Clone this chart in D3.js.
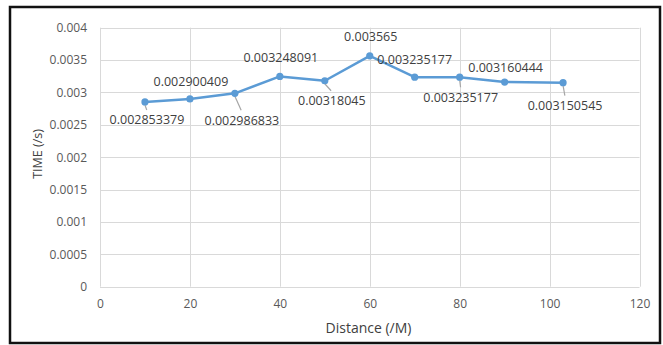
<!DOCTYPE html>
<html><head><meta charset="utf-8">
<script src="https://cdn.jsdelivr.net/npm/d3@7"></script>
<style>body{margin:0;background:#fff}svg{display:block}</style>
</head><body>
<svg id="c" width="663" height="345"></svg>
<script>
const distance = [10, 20, 30, 40, 50, 60, 70, 80, 90, 103];
const time = [0.002853379, 0.002900409, 0.002986833, 0.003248091, 0.00318045, 0.003565, 0.003235177, 0.003235177, 0.003160444, 0.003150545];
const labels = ["0.002853379","0.002900409","0.002986833","0.003248091","0.00318045","0.003565","0.003235177","0.003235177","0.003160444","0.003150545"];
const xTicks = [0, 20, 40, 60, 80, 100, 120];
const yTicks = [0, 0.0005, 0.001, 0.0015, 0.002, 0.0025, 0.003, 0.0035, 0.004];
const yTickLabels = ["0","0.0005","0.001","0.0015","0.002","0.0025","0.003","0.0035","0.004"];
const xTitle = "Distance (/M)";
const yTitle = "TIME (/s)";
// label layout (pixel offsets from point): [dx, dy, leader]
const labelLayout = [[2,18,1],[1,-17,0],[7,27,1],[1,-19,0],[7,20,1],[1,-19,0],[0,-18,0],[1,20,1],[1,-14,0],[2,23,1]];

const svg = d3.select("#c");
const font = "'Open Sans', 'Liberation Sans', sans-serif";
svg.append("rect").attr("x",10).attr("y",7).attr("width",650).attr("height",336)
  .attr("fill","#fff").attr("stroke","#111").attr("stroke-width",2.5);

const x = d3.scaleLinear().domain([0,120]).range([100,639.5]);
const y = d3.scaleLinear().domain([0,0.004]).range([286.7,27.7]);

const grid = svg.append("g");
grid.selectAll("line.h").data(yTicks).join("line")
  .attr("x1",x(0)).attr("x2",x(120)).attr("y1",d=>Math.round(y(d))+0.5).attr("y2",d=>Math.round(y(d))+0.5)
  .attr("stroke","#d9d9d9").attr("stroke-width",1);
grid.selectAll("line.v").data(xTicks).join("line")
  .attr("y1",y(0)).attr("y2",y(0.004)).attr("x1",d=>Math.round(x(d))+0.5).attr("x2",d=>Math.round(x(d))+0.5)
  .attr("stroke","#d9d9d9").attr("stroke-width",1);

const yAxis = d3.axisLeft(y).tickValues(yTicks).tickFormat((d,i)=>yTickLabels[i]).tickSize(0).tickPadding(13);
const gy = svg.append("g").attr("transform","translate(100,0)").call(yAxis);
gy.select(".domain").remove();
gy.selectAll("text").attr("font-family",font).attr("font-size",12).attr("fill","#595959");

const xAxis = d3.axisBottom(x).tickValues(xTicks).tickSize(0).tickPadding(13);
const gx = svg.append("g").attr("transform","translate(0,"+y(0)+")").call(xAxis);
gx.select(".domain").remove();
gx.selectAll("text").attr("font-family",font).attr("font-size",12).attr("fill","#595959");

svg.append("text").attr("x",368.5).attr("y",333).attr("text-anchor","middle")
  .attr("font-family",font).attr("font-size",14).attr("fill","#404040").text(xTitle);
svg.append("text").attr("transform","translate(42,154) rotate(-90)").attr("text-anchor","middle")
  .attr("font-family",font).attr("font-size",12.5).attr("fill","#404040").text(yTitle);

const pts = distance.map((d,i)=>({x:d,y:time[i],l:labels[i],o:labelLayout[i]}));

svg.selectAll("line.lead").data(pts.filter(p=>p.o[2])).join("line")
  .attr("x1",p=>x(p.x)).attr("y1",p=>y(p.y)+3)
  .attr("x2",p=>x(p.x)+p.o[0]*0.9).attr("y2",p=>y(p.y)+p.o[1]-10)
  .attr("stroke","#a6a6a6").attr("stroke-width",1.2);

const line = d3.line().x(p=>x(p.x)).y(p=>y(p.y));
svg.append("path").datum(pts).attr("d",line).attr("fill","none")
  .attr("stroke","#5b9bd5").attr("stroke-width",2.5).attr("stroke-linejoin","round");
svg.selectAll("circle").data(pts).join("circle")
  .attr("cx",p=>x(p.x)).attr("cy",p=>y(p.y)).attr("r",3.6).attr("fill","#5b9bd5");

svg.selectAll("text.lab").data(pts).join("text").attr("class","lab")
  .attr("x",p=>x(p.x)+p.o[0]).attr("y",p=>y(p.y)+p.o[1]).attr("dy","0.35em")
  .attr("text-anchor","middle").attr("font-family",font).attr("font-size",12.5)
  .attr("fill","#404040").text(p=>p.l);
</script>
</body></html>
